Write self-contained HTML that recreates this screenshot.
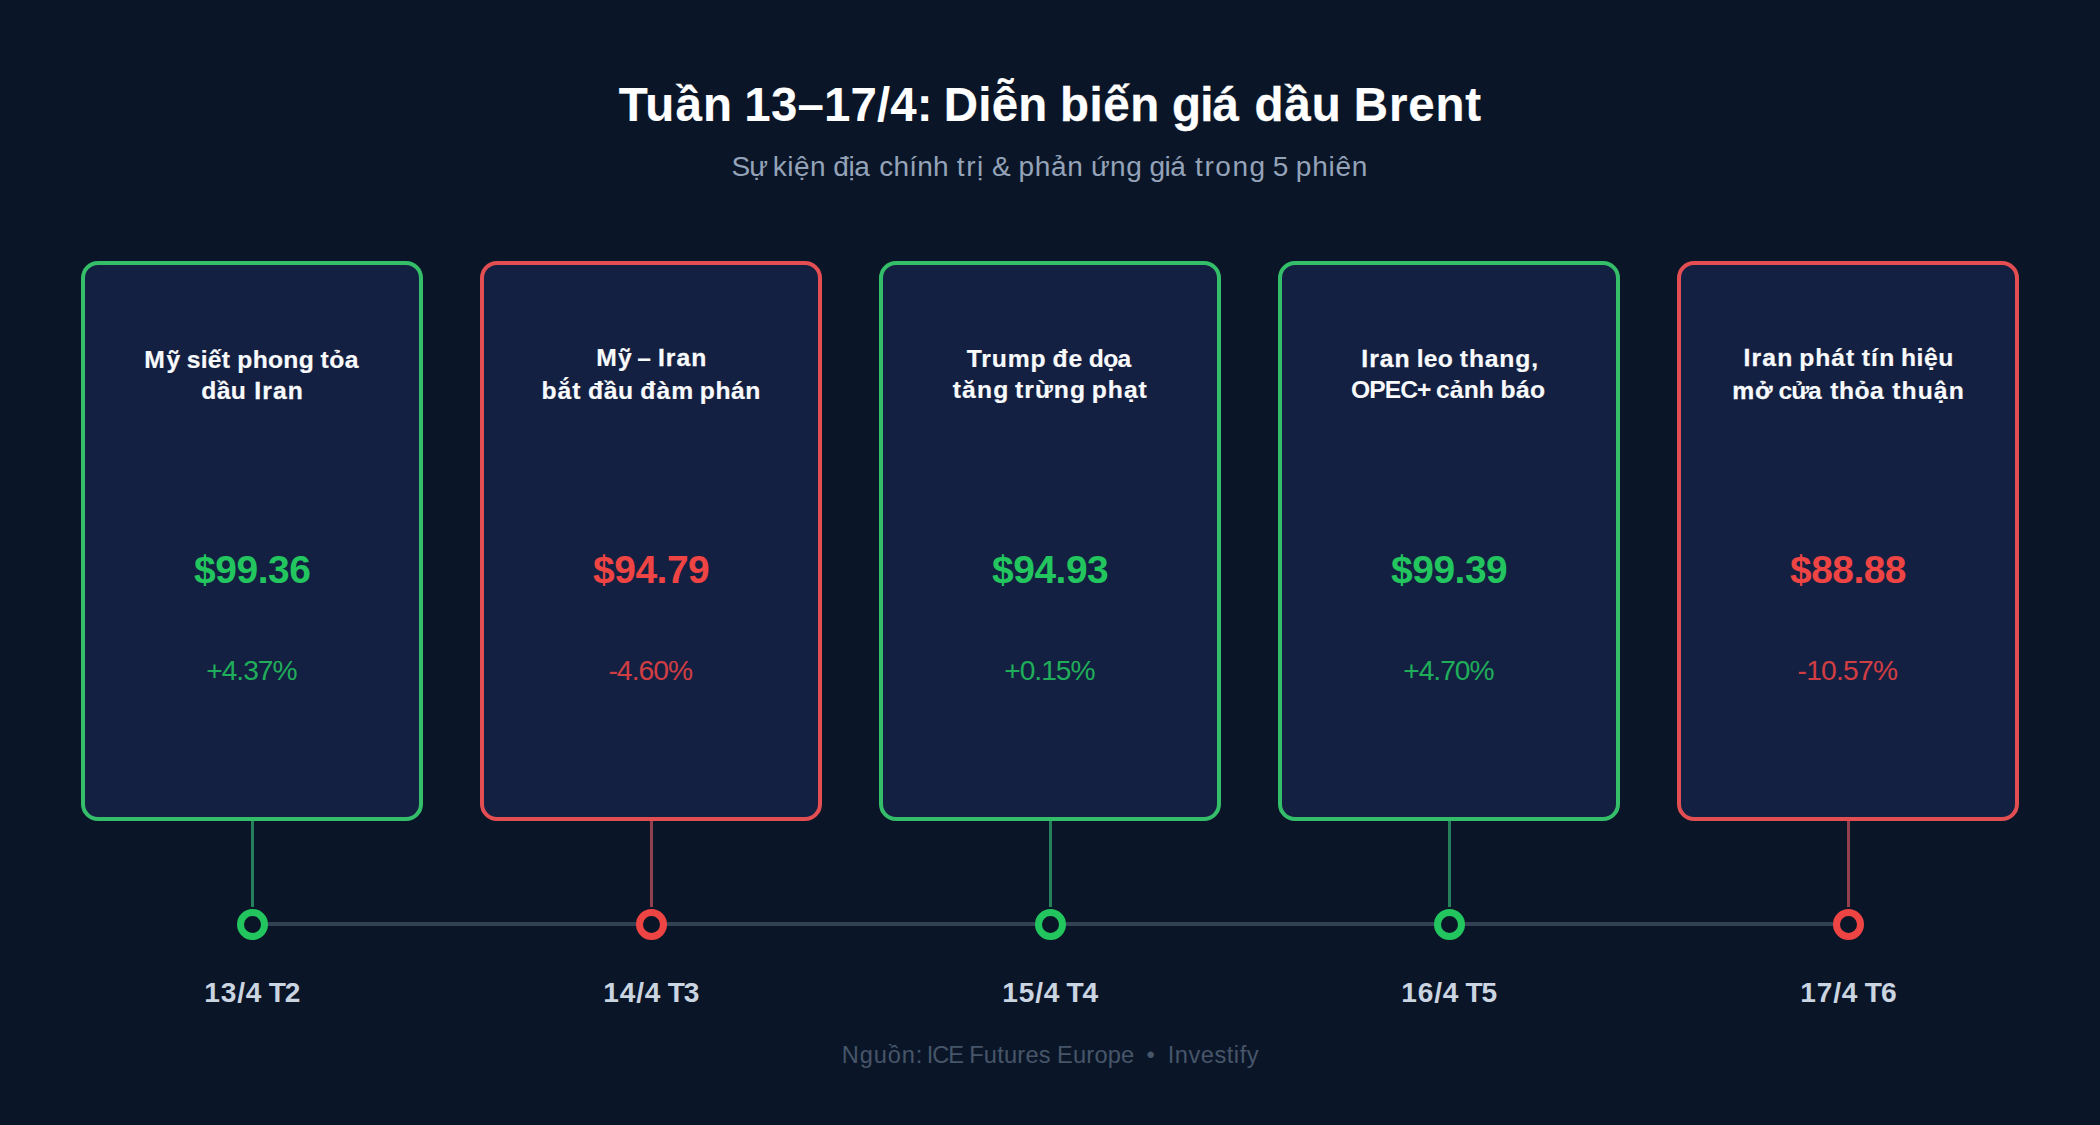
<!DOCTYPE html>
<html lang="vi">
<head>
<meta charset="utf-8">
<title>Tuần 13–17/4: Diễn biến giá dầu Brent</title>
<style>
*{box-sizing:border-box;margin:0;padding:0}
html{background:#0a1628}
body{position:relative;width:2100px;height:1125px;background:#0a1628;font-family:"Liberation Sans",sans-serif}
.t{position:absolute;height:0;line-height:0;white-space:pre;font-kerning:normal}
.title{font-weight:700;color:#ffffff;font-size:47.43px;-webkit-text-stroke:0.2px currentColor}
.sub{font-weight:400;color:#94a3b8;font-size:28.03px}
.head{font-weight:700;color:#f8fafc;font-size:24.68px;-webkit-text-stroke:0.2px currentColor}
.price{font-weight:700;font-size:38.93px;-webkit-text-stroke:0px currentColor}
.pct{font-weight:400;font-size:28.16px;opacity:0.86}
.date{font-weight:700;color:#cbd5e1;font-size:28.11px;-webkit-text-stroke:0px currentColor}
.foot{font-weight:400;color:#475569;font-size:23.61px}
.card{position:absolute;top:261px;width:342px;height:560px;border:4px solid;border-radius:17px;background:#142042}
.stem{position:absolute;top:821px;width:3px;height:86px}
.axis{position:absolute;left:252px;top:922px;width:1596px;height:4px;background:#334155}
.dot{position:absolute;top:909px;width:31px;height:31px;border-radius:50%;border:7px solid;background:#0a1628}
.g{color:#22c55e;border-color:#22c55e}
.r{color:#ef4444;border-color:#ef4444}
.card.g{border-color:#34be69}
.card.r{border-color:#e24e52}
.stem.g{background:#23805a}
.stem.r{background:#92404e}
</style>
</head>
<body>
<header>
<div class="t title" id="title" style="left:618.00px;top:105px"><span style="margin-left:0.72px;letter-spacing:1.14px">Tuần</span> <span style="margin-left:-1.89px;letter-spacing:0.15px;-webkit-text-stroke-width:0px">13–17/4:</span> <span style="margin-left:-2.28px;letter-spacing:0.25px">Diễn</span> <span style="margin-left:-0.71px;letter-spacing:0.59px;-webkit-text-stroke-width:0.3px">biến</span> <span style="margin-left:-1.07px;letter-spacing:-0.74px;-webkit-text-stroke-width:0.3px">giá</span> <span style="margin-left:3.00px;letter-spacing:0.94px;-webkit-text-stroke-width:0.3px">dầu</span> <span style="margin-left:-0.88px;letter-spacing:0.82px">Brent</span></div>
<div class="t sub" id="sub" style="left:733.00px;top:167px"><span style="margin-left:-1.55px;letter-spacing:-1.00px">Sự</span> <span style="margin-left:-2.06px;letter-spacing:0.54px">kiện</span> <span style="margin-left:-0.70px;letter-spacing:-0.39px">địa</span> <span style="margin-left:1.97px;letter-spacing:0.20px">chính</span> <span style="margin-left:0.12px;letter-spacing:1.60px">trị</span> <span style="margin-left:-0.70px">&amp;</span> <span style="margin-left:-0.07px;letter-spacing:0.72px">phản</span> <span style="margin-left:-0.56px;letter-spacing:0.45px">ứng</span> <span style="margin-left:-0.58px;letter-spacing:-0.42px">giá</span> <span style="margin-left:1.75px;letter-spacing:1.55px">trong</span> <span style="margin-left:-1.79px">5</span> <span style="margin-left:-0.31px;letter-spacing:0.77px">phiên</span></div>
</header>
<main>
<div class="axis"></div>
<section>
<div class="card g" style="left:81px"></div>
<div class="t head" id="h0a" style="left:145.00px;top:360px"><span style="margin-left:-0.67px;letter-spacing:1.60px">Mỹ</span> <span style="margin-left:-2.02px;letter-spacing:0.30px">siết</span> <span style="margin-left:0.11px;letter-spacing:0.25px">phong</span> <span style="margin-left:-0.33px;letter-spacing:0.51px">tỏa</span></div>
<div class="t head" id="h0b" style="left:202.00px;top:391px"><span style="margin-left:-0.67px;letter-spacing:0.35px">dầu</span> <span style="margin-left:1.08px;letter-spacing:1.11px;-webkit-text-stroke-width:0.3px">Iran</span></div>
<div class="t price g" id="p0" style="left:194.00px;top:570px"><span style="margin-left:0.06px;letter-spacing:-0.45px">$99.36</span></div>
<div class="t pct g" id="c0" style="left:207.00px;top:671px"><span style="margin-left:-0.78px;letter-spacing:-1.00px">+4.37%</span></div>
<div class="stem g" style="left:251px"></div>
<div class="dot g" style="left:237px"></div>
<div class="t date" id="d0" style="left:205.00px;top:993px"><span style="margin-left:-0.78px;letter-spacing:0.82px">13/4</span> <span style="margin-left:-1.36px;letter-spacing:-1.00px">T2</span></div>
</section>
<section>
<div class="card r" style="left:480px"></div>
<div class="t head" id="h1a" style="left:597.00px;top:358px"><span style="margin-left:-0.83px;letter-spacing:1.26px">Mỹ</span> <span style="margin-left:-2.61px;-webkit-text-stroke-width:0px">–</span> <span style="margin-left:0.11px;letter-spacing:1.09px;-webkit-text-stroke-width:0.3px">Iran</span></div>
<div class="t head" id="h1b" style="left:542.00px;top:391px"><span style="margin-left:-0.60px;letter-spacing:1.05px">bắt</span> <span style="margin-left:-0.34px;letter-spacing:0.59px">đầu</span> <span style="margin-left:-0.44px;letter-spacing:1.19px">đàm</span> <span style="margin-left:-1.52px;letter-spacing:0.53px">phán</span></div>
<div class="t price r" id="p1" style="left:593.00px;top:570px"><span style="margin-left:0.06px;letter-spacing:-0.48px">$94.79</span></div>
<div class="t pct r" id="c1" style="left:609.00px;top:671px"><span style="margin-left:-0.62px;letter-spacing:-0.90px">-4.60%</span></div>
<div class="stem r" style="left:650px"></div>
<div class="dot r" style="left:636px"></div>
<div class="t date" id="d1" style="left:604.00px;top:993px"><span style="margin-left:-0.78px;letter-spacing:0.82px">14/4</span> <span style="margin-left:-1.43px;letter-spacing:-1.00px">T3</span></div>
</section>
<section>
<div class="card g" style="left:879px"></div>
<div class="t head" id="h2a" style="left:966.00px;top:359px"><span style="margin-left:0.66px;letter-spacing:0.89px">Trump</span> <span style="margin-left:-0.81px;letter-spacing:0.78px">đe</span> <span style="margin-left:-0.94px;letter-spacing:-0.68px;-webkit-text-stroke-width:0.1px">dọa</span></div>
<div class="t head" id="h2b" style="left:953.00px;top:390px"><span style="margin-left:-0.31px;letter-spacing:1.15px">tăng</span> <span style="margin-left:-1.24px;letter-spacing:1.03px">trừng</span> <span style="margin-left:-1.04px;letter-spacing:0.97px">phạt</span></div>
<div class="t price g" id="p2" style="left:992.00px;top:570px"><span style="margin-left:0.06px;letter-spacing:-0.48px">$94.93</span></div>
<div class="t pct g" id="c2" style="left:1005.00px;top:671px"><span style="margin-left:-0.78px;letter-spacing:-1.00px">+0.15%</span></div>
<div class="stem g" style="left:1049px"></div>
<div class="dot g" style="left:1035px"></div>
<div class="t date" id="d2" style="left:1003.00px;top:993px"><span style="margin-left:-0.78px;letter-spacing:0.82px">15/4</span> <span style="margin-left:-1.60px;letter-spacing:-1.00px;-webkit-text-stroke-width:0.1px">T4</span></div>
</section>
<section>
<div class="card g" style="left:1278px"></div>
<div class="t head" id="h3a" style="left:1362.00px;top:359px"><span style="margin-left:-0.67px;letter-spacing:1.03px;-webkit-text-stroke-width:0.3px">Iran</span> <span style="margin-left:-0.96px;letter-spacing:0.28px">leo</span> <span style="margin-left:-0.15px;letter-spacing:0.84px">thang,</span></div>
<div class="t head" id="h3b" style="left:1354.00px;top:390px"><span style="margin-left:-2.96px;letter-spacing:-1.00px;-webkit-text-stroke-width:0px">OPEC+</span> <span style="margin-left:-1.20px;letter-spacing:0.10px;-webkit-text-stroke-width:0.1px">cảnh</span> <span style="margin-left:-0.44px;letter-spacing:0.38px">báo</span></div>
<div class="t price g" id="p3" style="left:1391.00px;top:570px"><span style="margin-left:0.06px;letter-spacing:-0.48px">$99.39</span></div>
<div class="t pct g" id="c3" style="left:1404.00px;top:671px"><span style="margin-left:-0.78px;letter-spacing:-1.00px">+4.70%</span></div>
<div class="stem g" style="left:1448px"></div>
<div class="dot g" style="left:1434px"></div>
<div class="t date" id="d3" style="left:1402.00px;top:993px"><span style="margin-left:-0.78px;letter-spacing:0.82px">16/4</span> <span style="margin-left:-1.60px;letter-spacing:-1.00px">T5</span></div>
</section>
<section>
<div class="card r" style="left:1677px"></div>
<div class="t head" id="h4a" style="left:1744.00px;top:358px"><span style="margin-left:-0.54px;letter-spacing:1.21px;-webkit-text-stroke-width:0.3px">Iran</span> <span style="margin-left:-1.28px;letter-spacing:0.99px">phát</span> <span style="margin-left:-0.36px;letter-spacing:1.19px">tín</span> <span style="margin-left:-1.33px;letter-spacing:0.59px">hiệu</span></div>
<div class="t head" id="h4b" style="left:1733.00px;top:391px"><span style="margin-left:-0.89px;letter-spacing:0.90px;-webkit-text-stroke-width:0.3px">mở</span> <span style="margin-left:-1.78px;letter-spacing:-1.00px;-webkit-text-stroke-width:0.1px">cửa</span> <span style="margin-left:2.63px;letter-spacing:0.47px">thỏa</span> <span style="margin-left:1.19px;letter-spacing:1.06px">thuận</span></div>
<div class="t price r" id="p4" style="left:1790.00px;top:570px"><span style="margin-left:0.06px;letter-spacing:-0.53px">$88.88</span></div>
<div class="t pct r" id="c4" style="left:1798.00px;top:671px"><span style="margin-left:-0.46px;letter-spacing:-0.75px">-10.57%</span></div>
<div class="stem r" style="left:1847px"></div>
<div class="dot r" style="left:1833px"></div>
<div class="t date" id="d4" style="left:1801.00px;top:993px"><span style="margin-left:-0.78px;letter-spacing:0.82px">17/4</span> <span style="margin-left:-1.32px;letter-spacing:-1.00px;-webkit-text-stroke-width:0.1px">T6</span></div>
</section>
</main>
<footer>
<div class="t foot" id="foot" style="left:843.00px;top:1055px"><span style="margin-left:-1.24px;letter-spacing:0.86px">Nguồn:</span> <span style="margin-left:-2.90px;letter-spacing:-1.00px">ICE</span> <span style="margin-left:-0.52px;letter-spacing:0.24px">Futures</span> <span style="margin-left:-0.36px;letter-spacing:0.19px">Europe</span>  <span style="margin-left:-0.91px">•</span>  <span style="margin-left:-0.33px;letter-spacing:0.54px">Investify</span></div>
</footer>
</body>
</html>
